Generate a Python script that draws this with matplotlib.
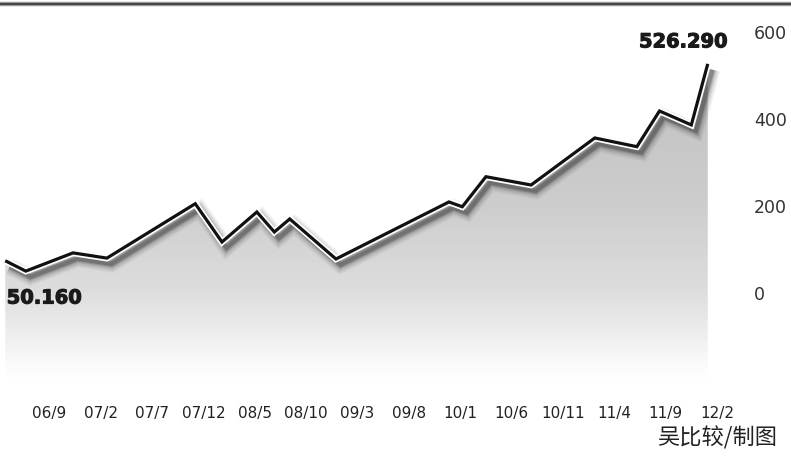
import numpy as np
import matplotlib
matplotlib.use("Agg")
import matplotlib.pyplot as plt
import matplotlib.patheffects as pe
from matplotlib.patches import Polygon
from matplotlib.lines import Line2D

# ---- data ----
tick_labels = ["06/9", "07/2", "07/7", "07/12", "08/5", "08/10", "09/3",
               "09/8", "10/1", "10/6", "10/11", "11/4", "11/9", "12/2"]
tick_months = list(range(0, 66, 5))          # months after 2006/9
point_months = [-4.3, -2.3, 2.3, 5.6, 14.2, 16.8, 20.2, 21.9, 23.4, 27.9,
                38.9, 40.2, 42.5, 46.9, 53.1, 57.2, 59.4, 62.5, 64.1]
point_values = [74, 50.16, 92, 80, 205, 117, 186, 140, 170, 78,
                209, 198, 267, 248, 356, 336, 418, 386, 526.29]
y_ticks = [0, 200, 400, 600]
y_tick_labels = ["0", "200", "400", "600"]
min_label = "50.160"
max_label = "526.290"
credit = "吴比较/制图"

# ---- figure ----
W, H = 791, 463
fig = plt.figure(figsize=(W / 100, H / 100), dpi=100)
fig.patch.set_facecolor("white")
ax = fig.add_axes([0, 83 / H, 717 / W, 370 / H])
xmin, xmax = -4.81, 64.13
ymin, ymax = -200, 650
ax.set_xlim(xmin, xmax)
ax.set_ylim(ymin, ymax)
for s in ax.spines.values():
    s.set_visible(False)
ax.set_facecolor("none")

# gradient fill under the line
stop_v = [-200, -160, -90, 0, 200, 650]
stop_g = [255, 250, 237, 222, 205, 188]
yv = np.linspace(ymax, ymin, 500)
g = np.interp(yv, stop_v, stop_g) / 255.0
img = np.dstack([g, g, g]).reshape(-1, 1, 3)
img = np.repeat(img, 2, axis=1)
im = ax.imshow(img, extent=[xmin, xmax, ymin, ymax], aspect="auto",
               interpolation="bilinear", zorder=1)
verts = [(point_months[0], ymin)] + list(zip(point_months, point_values)) + \
        [(point_months[-1], ymin)]
poly = Polygon(verts, closed=True, facecolor="none", edgecolor="none")
ax.add_patch(poly)
im.set_clip_path(poly)

# line with blurred drop shadow
effects = []
for lw, a in [(12, 0.05), (10, 0.06), (8, 0.08), (6, 0.11), (4.5, 0.16), (3, 0.25)]:
    effects.append(pe.SimpleLineShadow(offset=(3.3, -4.2), shadow_color="#222222",
                                       alpha=a, rho=1.0, linewidth=lw))
effects += [pe.Stroke(linewidth=4.8, foreground="white"), pe.Normal()]
ax.plot(point_months, point_values, color="#111111", lw=2.3,
        solid_joinstyle="miter", solid_capstyle="butt", zorder=3,
        clip_on=False, path_effects=effects)

# ticks
ax.yaxis.tick_right()
ax.set_yticks(y_ticks, y_tick_labels)
ax.tick_params(axis="y", length=0, pad=26.5, labelsize=12.5, labelcolor="#333333")
ax.set_xticks(tick_months, tick_labels)
ax.tick_params(axis="x", length=0, pad=18.5, labelsize=11, labelcolor="#222222")

# value labels (heavy)
heavy = [pe.Stroke(linewidth=0.8, foreground="#1a1a1a"), pe.Normal()]
i_min = int(np.argmin(point_values))
ax.annotate(min_label, xy=(point_months[i_min], point_values[i_min]),
            xytext=(-13.7, -19.4), textcoords="offset points",
            ha="left", va="center", fontsize=14, fontweight="bold",
            color="#1a1a1a", zorder=5, path_effects=heavy)
ax.annotate(max_label, xy=(point_months[-1], point_values[-1]),
            xytext=(14.4, 15.8), textcoords="offset points",
            ha="right", va="center", fontsize=14, fontweight="bold",
            color="#1a1a1a", zorder=5, annotation_clip=False, path_effects=heavy)

# top rule
fig.add_artist(Line2D([0, 1], [1 - 3.5 / H] * 2, transform=fig.transFigure,
                      color="#9a9a9a", lw=3.2))
fig.add_artist(Line2D([0, 1], [1 - 3.5 / H] * 2, transform=fig.transFigure,
                      color="#444444", lw=1.4))

# credit
fig.text(777 / W, 1 - 438 / H, credit, ha="right", va="center", fontsize=16,
         family=["Noto Sans CJK SC", "DejaVu Sans"], color="#222222")

fig.savefig("out.png", dpi=100, facecolor="white")
